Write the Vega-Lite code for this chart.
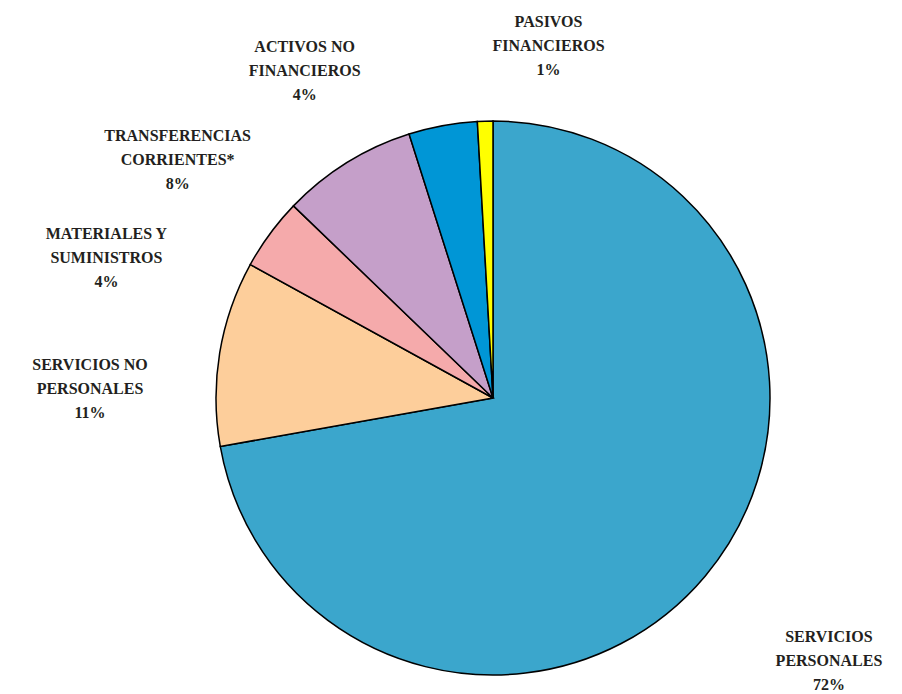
{
  "$schema": "https://vega.github.io/schema/vega-lite/v6.json",
  "width": 818,
  "height": 592,
  "padding": {"left": 84, "top": 102, "right": 0, "bottom": 0},
  "autosize": {"type": "none"},
  "background": "white",
  "config": {"view": {"stroke": null}},
  "data": {
    "values": [
      {"orden": 1, "categoria": "SERVICIOS PERSONALES", "etiqueta": "SERVICIOS\nPERSONALES\n72%", "valor": 72.2},
      {"orden": 2, "categoria": "SERVICIOS NO PERSONALES", "etiqueta": "SERVICIOS NO\nPERSONALES\n11%", "valor": 10.8},
      {"orden": 3, "categoria": "MATERIALES Y SUMINISTROS", "etiqueta": "MATERIALES Y\nSUMINISTROS\n4%", "valor": 4.2},
      {"orden": 4, "categoria": "TRANSFERENCIAS CORRIENTES*", "etiqueta": "TRANSFERENCIAS\nCORRIENTES*\n8%", "valor": 7.9},
      {"orden": 5, "categoria": "ACTIVOS NO FINANCIEROS", "etiqueta": "ACTIVOS NO\nFINANCIEROS\n4%", "valor": 4.0},
      {"orden": 6, "categoria": "PASIVOS FINANCIEROS", "etiqueta": "PASIVOS\nFINANCIEROS\n1%", "valor": 0.9}
    ]
  },
  "encoding": {
    "theta": {"field": "valor", "type": "quantitative", "stack": true},
    "order": {"field": "orden", "type": "quantitative"}
  },
  "layer": [
    {
      "mark": {"type": "arc", "outerRadius": 277, "stroke": "#000000", "strokeWidth": 1.5},
      "encoding": {
        "color": {
          "field": "categoria",
          "type": "nominal",
          "legend": null,
          "scale": {
            "domain": ["SERVICIOS PERSONALES", "SERVICIOS NO PERSONALES", "MATERIALES Y SUMINISTROS", "TRANSFERENCIAS CORRIENTES*", "ACTIVOS NO FINANCIEROS", "PASIVOS FINANCIEROS"],
            "range": ["#3BA6CC", "#FDCE9B", "#F5AAAB", "#C59FC9", "#0096D6", "#FFFF00"]
          }
        }
      }
    },
    {
      "mark": {
        "type": "text",
        "radius": 300,
        "font": "Liberation Serif",
        "fontWeight": "bold",
        "fontSize": 16,
        "lineBreak": "\n",
        "lineHeight": 24,
        "align": "center",
        "baseline": "middle",
        "color": "#231F20",
        "dx": {"expr": "[106,-107,-145,-157,-134,64][datum.orden-1]"},
        "dy": {"expr": "[46,16,14,-7,-56,-76][datum.orden-1]"}
      },
      "encoding": {
        "text": {"field": "etiqueta", "type": "nominal"}
      }
    }
  ]
}
